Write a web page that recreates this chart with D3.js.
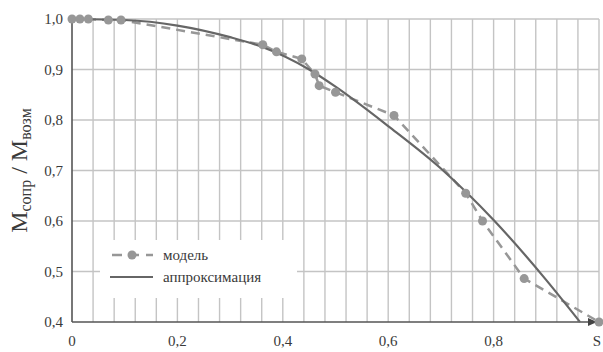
<!DOCTYPE html>
<html><head><meta charset="utf-8">
<script src="https://cdn.jsdelivr.net/npm/d3@7"></script>
<style>body{margin:0;background:#fff}</style>
</head><body>
<svg id="c" width="603" height="352"></svg>
<script>
// model data (points)
const modelX = [0, 0.015, 0.031, 0.069, 0.093, 0.362, 0.388, 0.436, 0.461, 0.469, 0.500, 0.611, 0.747, 0.779, 0.858, 1.0];
const modelY = [1.0, 1.0, 1.0, 0.998, 0.998, 0.949, 0.935, 0.921, 0.891, 0.868, 0.855, 0.809, 0.655, 0.600, 0.486, 0.400];
// approximation curve
const approxX = [0, 0.1, 0.2, 0.3, 0.36, 0.45, 0.5, 0.6, 0.7, 0.8, 0.9, 0.964];
const approxY = [1.0, 0.998, 0.987, 0.964, 0.945, 0.900, 0.866, 0.788, 0.704, 0.602, 0.483, 0.400];
const yTicks = [0.4, 0.5, 0.6, 0.7, 0.8, 0.9, 1.0];
const xTicks = [0, 0.2, 0.4, 0.6, 0.8];
const xTickLabels = ["0", "0,2", "0,4", "0,6", "0,8"];
const legendLabels = ["модель", "аппроксимация"];

const svg = d3.select("#c");
const x = d3.scaleLinear().domain([0, 1]).range([72, 599]);
const y = d3.scaleLinear().domain([0.4, 1.0]).range([322, 19]);
const font = "'Liberation Serif','Times New Roman',serif";
const gridC = "#c4c4c4", txtC = "#3a3a3a";

// grid
const g = svg.append("g");
g.selectAll("line.v").data(d3.range(1, 26).map(i => i * 0.04)).enter().append("line")
  .attr("x1", d => x(d)).attr("x2", d => x(d)).attr("y1", y(1.0)).attr("y2", y(0.4))
  .attr("stroke", gridC).attr("stroke-width", 1.4);
g.selectAll("line.h").data(yTicks.filter(d => d > 0.45)).enter().append("line")
  .attr("x1", x(0)).attr("x2", x(1)).attr("y1", d => y(d)).attr("y2", d => y(d))
  .attr("stroke", gridC).attr("stroke-width", 1.4);

// legend box (white, covering grid)
svg.append("rect").attr("x", 100).attr("y", 240).attr("width", 197).attr("height", 58).attr("fill", "#fff");

// axes
svg.append("line").attr("x1", x(0)).attr("x2", x(0)).attr("y1", y(1.0)).attr("y2", y(0.4))
  .attr("stroke", "#555").attr("stroke-width", 1.6);
svg.append("line").attr("x1", x(0)).attr("x2", 590).attr("y1", y(0.4)).attr("y2", y(0.4))
  .attr("stroke", "#555").attr("stroke-width", 1.6);
svg.append("path").attr("d", `M588,${y(0.4)-4}L597,${y(0.4)}L588,${y(0.4)+4}Z`).attr("fill", "#444");

// y tick labels
svg.selectAll("text.yt").data(yTicks).enter().append("text")
  .attr("x", 63).attr("y", d => y(d) + 5).attr("text-anchor", "end")
  .attr("font-family", font).attr("font-size", 15).attr("fill", txtC)
  .text(d => d3.format(".1f")(d).replace(".", ","));
// x tick labels
svg.selectAll("text.xt").data(xTicks).enter().append("text")
  .attr("x", d => x(d)).attr("y", 346).attr("text-anchor", "middle")
  .attr("font-family", font).attr("font-size", 15).attr("fill", txtC)
  .text((d, i) => xTickLabels[i]);
svg.append("text").attr("x", 597).attr("y", 346).attr("text-anchor", "middle")
  .attr("font-family", font).attr("font-size", 15).attr("fill", txtC).text("S");

// y axis label
const yl = svg.append("text").attr("transform", `translate(27,${(y(1)+y(0.4))/2}) rotate(-90)`)
  .attr("text-anchor", "middle").attr("font-family", font).attr("font-size", 24).attr("fill", txtC);
yl.append("tspan").text("M");
yl.append("tspan").attr("font-size", 16).attr("dy", 4).text("сопр");
yl.append("tspan").attr("dy", -4).text(" / M");
yl.append("tspan").attr("font-size", 16).attr("dy", 4).text("возм");

// lines
const modelData = modelX.map((v, i) => [v, modelY[i]]);
const approxData = approxX.map((v, i) => [v, approxY[i]]);
const modelC = "#979797", approxC = "#666";
svg.append("path").datum(modelData)
  .attr("d", d3.line().x(d => x(d[0])).y(d => y(d[1])))
  .attr("fill", "none").attr("stroke", modelC).attr("stroke-width", 2.5).attr("stroke-dasharray", "9,6");
svg.append("path").datum(approxData)
  .attr("d", d3.line().x(d => x(d[0])).y(d => y(d[1])).curve(d3.curveMonotoneX))
  .attr("fill", "none").attr("stroke", approxC).attr("stroke-width", 2.2);
svg.selectAll("circle.m").data(modelData).enter().append("circle")
  .attr("cx", d => x(d[0])).attr("cy", d => y(d[1])).attr("r", 4.5).attr("fill", modelC);

// legend
svg.append("line").attr("x1", 110).attr("x2", 153).attr("y1", 255).attr("y2", 255)
  .attr("stroke", modelC).attr("stroke-width", 2.5).attr("stroke-dasharray", "10,7").attr("stroke-dashoffset", -2);
svg.append("circle").attr("cx", 132).attr("cy", 255).attr("r", 4.5).attr("fill", modelC);
svg.append("line").attr("x1", 110).attr("x2", 153).attr("y1", 277).attr("y2", 277)
  .attr("stroke", approxC).attr("stroke-width", 2.2);
svg.selectAll("text.lg").data(legendLabels).enter().append("text")
  .attr("x", 163).attr("y", (d, i) => 260 + i * 22)
  .attr("font-family", font).attr("font-size", 15).attr("fill", txtC).text(d => d);
</script>
</body></html>
